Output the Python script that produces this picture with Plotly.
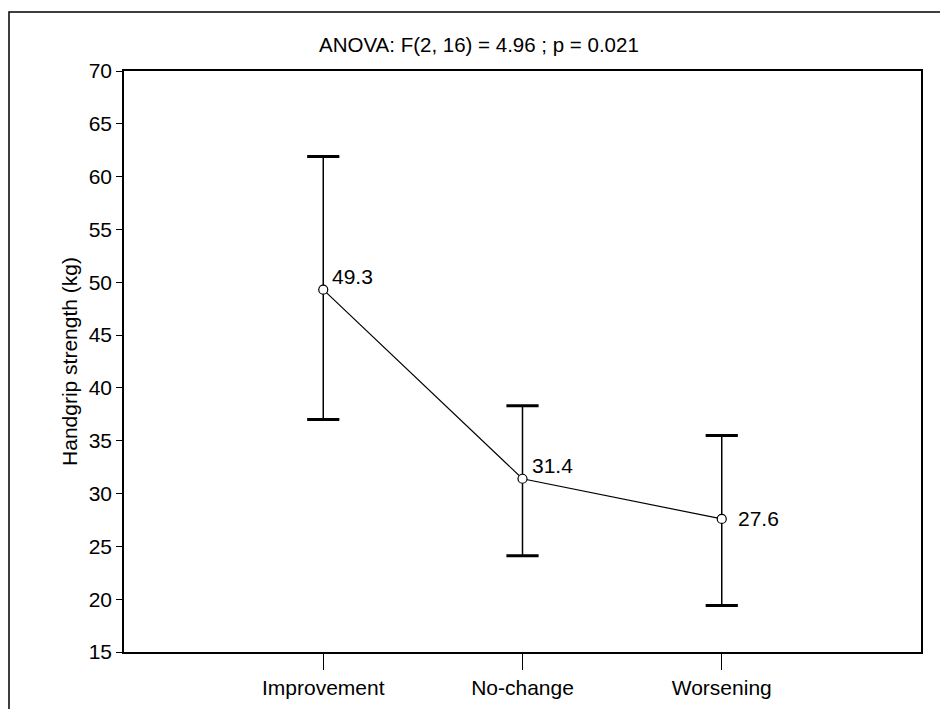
import plotly.graph_objects as go

categories = ["Improvement", "No-change", "Worsening"]
means = [49.3, 31.4, 27.6]
upper = [61.9, 38.3, 35.5]
lower = [37.0, 24.1, 19.4]
mean_labels = ["49.3", "31.4", "27.6"]
y_ticks = [15, 20, 25, 30, 35, 40, 45, 50, 55, 60, 65, 70]
title_text = "ANOVA: F(2, 16) = 4.96 ; p = 0.021"
y_title = "Handgrip strength (kg)"

xpos = [1, 2, 3]
err_plus = [u - m for u, m in zip(upper, means)]
err_minus = [m - l for m, l in zip(means, lower)]

FONT = "Liberation Sans, Arial, Helvetica, sans-serif"
FS = 21

fig = go.Figure()
# error bar stems
fig.add_trace(go.Scatter(
    x=xpos, y=means, mode="markers",
    marker=dict(size=1, color="rgba(0,0,0,0)"),
    error_y=dict(type="data", symmetric=False, array=err_plus, arrayminus=err_minus,
                 color="black", thickness=1.5, width=0),
    showlegend=False, hoverinfo="skip"))
# thick caps
fig.add_trace(go.Scatter(
    x=xpos + xpos, y=upper + lower, mode="markers",
    marker=dict(symbol="line-ew", size=23, line=dict(color="black", width=3)),
    showlegend=False, hoverinfo="skip"))
# line + open markers
fig.add_trace(go.Scatter(
    x=xpos, y=means, mode="lines+markers",
    line=dict(color="black", width=1.2),
    marker=dict(symbol="circle", size=9, color="white", line=dict(color="black", width=1.2)),
    showlegend=False))

shifts = [(7, 13), (7, 13), (14, 0)]
for x, m, lab, (dx, dy) in zip(xpos, means, mean_labels, shifts):
    fig.add_annotation(x=x, y=m, text=lab, showarrow=False, xanchor="left", yanchor="middle",
                       xshift=dx, yshift=dy, font=dict(size=FS, color="black", family=FONT))

fig.add_annotation(x=0.446, y=1.0, xref="paper", yref="paper", yanchor="bottom", yshift=13,
                   text=title_text, showarrow=False, font=dict(size=20.5, color="black", family=FONT))

# outer frame (runs off the right and bottom edges, as in the reference)
fig.add_shape(type="rect", xref="paper", yref="paper", x0=-0.1443, y0=-0.14, x1=1.06, y1=1.1015,
              line=dict(color="black", width=1.5), layer="below")

fig.update_layout(
    width=948, height=709,
    margin=dict(l=116, r=35, t=63, b=65, autoexpand=False),
    paper_bgcolor="white", plot_bgcolor="white",
    font=dict(family=FONT, size=FS, color="black"),
    xaxis=dict(range=[0, 4], tickvals=xpos, ticktext=categories, ticks="outside", ticklen=16,
               tickwidth=1.2, tickcolor="black", showgrid=False, zeroline=False,
               showline=True, linecolor="black", linewidth=1.5, mirror=True, automargin=False,
               tickfont=dict(size=FS, family=FONT)),
    yaxis=dict(range=[15, 70], tickvals=y_ticks, ticks="outside", ticklen=6, tickwidth=1.2,
               tickcolor="black", showgrid=False, zeroline=False, automargin=False,
               showline=True, linecolor="black", linewidth=1.5, mirror=True,
               title=dict(text=y_title, font=dict(size=FS, family=FONT), standoff=5),
               tickfont=dict(size=FS, family=FONT)),
)

fig.write_html("out.html")
